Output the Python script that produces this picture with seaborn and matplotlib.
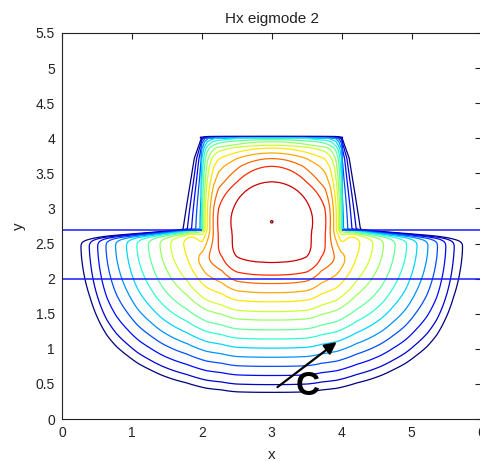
import numpy as np
import matplotlib
matplotlib.use("Agg")
import matplotlib.pyplot as plt
from matplotlib.ticker import FuncFormatter
import seaborn as sns

sns.set_style("white")
plt.rcParams["font.family"] = ["Liberation Sans", "DejaVu Sans"]

# contour levels: 1 = outermost (dark blue) ... 15 = innermost loop (dark red)
levels = np.arange(1, 16)
peak_x, peak_y = 3.0, 2.81

# where each level crosses x = 3 below the peak, levels 1..15
y_below = np.array([0.38, 0.49, 0.62, 0.75, 0.88, 1.01, 1.14, 1.27,
                    1.41, 1.53, 1.67, 1.80, 1.93, 2.05, 2.23])
# crossings of x = 3 above the peak, levels 8..15 (1..7 pile up on the rib top)
y_above = np.array([3.98, 3.95, 3.90, 3.86, 3.79, 3.71, 3.60, 3.38])
# left crossings in the slab at y = 2.3, levels 1..15
x_slab = np.array([0.28, 0.40, 0.52, 0.64, 0.78, 0.94, 1.09, 1.26,
                   1.43, 1.59, 1.79, 1.93, 2.07, 2.29, 2.50])
# left crossings inside the rib at y = 3.0, levels 8..15
x_rib = np.array([2.01, 2.03, 2.05, 2.08, 2.12, 2.17, 2.24, 2.45])
# how far the field leaks out past the rib side walls
wall_y = [2.7, 3.24, 3.72, 4.0]
wall_w = [0.33, 0.23, 0.14, 0.02]

# waveguide layers
slab_bottom, slab_top, rib_top = 2.0, 2.7, 4.0
rib_half = 1.0

# level deficit (16 - level) against distance below the peak
dist = np.r_[0, peak_y - y_below[::-1], 4.0]
defi = np.r_[0, np.arange(1, 16), 28.0]
up_d = np.r_[0, y_above[::-1] - peak_y, rib_top - peak_y, 3.0]
up_def = np.r_[0, np.arange(1, 9), 8.5, 30.0]


def smooth(t):
    t = np.clip(t, 0, 1)
    return t * t * (3 - 2 * t)


def to_def(r):
    return np.interp(r, dist, defi)


def to_dist(dd):
    return np.interp(dd, defi, dist)


def e_v(yy):
    return np.where(yy < peak_y, peak_y - yy, to_dist(np.interp(yy - peak_y, up_d, up_def)))


def p_of(yy):
    return 2.5 - 0.5 * smooth((yy - 2.3) / 0.5)


# horizontal crossings turned into "distance from the peak"
ps = 2.5
ev_s = float(e_v(np.array(2.3)))
u_slab = np.r_[0, peak_x - x_slab[::-1], 3.5]
e_slab = (dist[1:16] ** ps - ev_s ** ps) ** (1 / ps)
e_slab = np.r_[0, e_slab, e_slab[-1] + 0.8]

pr = 2.0
ev_r = float(e_v(np.array(3.0)))
u_rib = np.r_[0, peak_x - x_rib[::-1], rib_half, 3.0]
e_rib = (dist[1:9] ** pr - ev_r ** pr) ** (1 / pr)
e_rib = np.r_[0, e_rib, e_rib[-1] + 0.04, e_rib[-1] + 6.0]


def field(U, Y):
    # slab shape below, rib shape above; under the rib it switches earlier
    w_in = smooth((Y - 2.2) / 0.5)
    w_out = np.clip((Y - 2.35) / 0.35, 0, 1) ** 7
    a = smooth((U - 0.8) / 0.4)
    w = (1 - a) * w_in + a * w_out
    eh = (1 - w) * np.interp(U, u_slab, e_slab) + w * np.interp(U, u_rib, e_rib)
    pp = p_of(Y)
    r = (eh ** pp + e_v(Y) ** pp) ** (1 / pp)
    return np.clip(16 - to_def(r), 0, None)


x = np.linspace(0, 6, 601)
y = np.linspace(0, 5.5, 551)
X, Y = np.meshgrid(x, y)
U = np.abs(X - peak_x)

F = field(U, Y)
inside = (Y <= slab_top) | ((U <= rib_half) & (Y <= rib_top))

# leaks into the air around the rib and above the slab
side = 0.7 * field(np.full_like(Y, rib_half), Y) * np.clip(1 - (U - rib_half) / np.interp(Y, wall_y, wall_w), 0, 1)
side = np.where((Y > slab_top) & (Y <= rib_top), side, 0)
above = 0.7 * field(np.minimum(U, rib_half), np.full_like(Y, rib_top)) * np.clip(1 - (Y - rib_top) / 0.035, 0, 1)
above = np.where((Y > rib_top) & (U <= rib_half + 0.02), above, 0)
slab_leak = field(U, np.full_like(Y, slab_top)) * np.clip(1 - (Y - slab_top) / 0.03, 0, 1)
slab_leak = np.where(Y > slab_top, slab_leak, 0)
F = np.where(inside, F, np.maximum(np.maximum(side, above), slab_leak))

fig = plt.figure(figsize=(4.81, 4.61), dpi=100)
ax = fig.add_axes([62 / 481, 42 / 461, 419.5 / 481, 386 / 461])

jet = matplotlib.colormaps["jet"]
ax.contour(X, Y, F, levels=np.r_[levels, 15.97], cmap=jet, vmin=1, vmax=16, linewidths=0.9)

ax.hlines(slab_bottom, 0, 6, color="#1a1aff", lw=1.1)
ax.hlines(slab_top, 0, peak_x - rib_half, color="#1a1aff", lw=1.1)
ax.hlines(slab_top, peak_x + rib_half, 6, color="#1a1aff", lw=1.1)

ax.annotate("", xy=(3.96, 1.12), xytext=(3.05, 0.43),
            arrowprops=dict(arrowstyle="-|>", color="black", lw=1.6, mutation_scale=18))
ax.text(3.52, 0.46, "C", fontsize=24, fontweight="bold", ha="center", va="center", color="black")

ax.set_xlim(0, 6)
ax.set_ylim(0, 5.5)
ax.set_xticks(np.arange(0, 7, 1))
ax.set_yticks(np.arange(0, 5.51, 0.5))
ax.yaxis.set_major_formatter(FuncFormatter(lambda v, pos: "%g" % v))
ax.tick_params(direction="in", top=True, right=True, length=4, width=0.8,
               labelsize=10, colors="#222222", pad=5)
for s in ax.spines.values():
    s.set_color("#222222")
    s.set_linewidth(0.8)

ax.set_title("Hx eigmode 2", fontsize=11, color="#222222", pad=7)
ax.set_xlabel("x", fontsize=11, color="#222222", labelpad=6)
ax.set_ylabel("y", fontsize=11, color="#222222", labelpad=7)

fig.savefig("out.png", dpi=100)
